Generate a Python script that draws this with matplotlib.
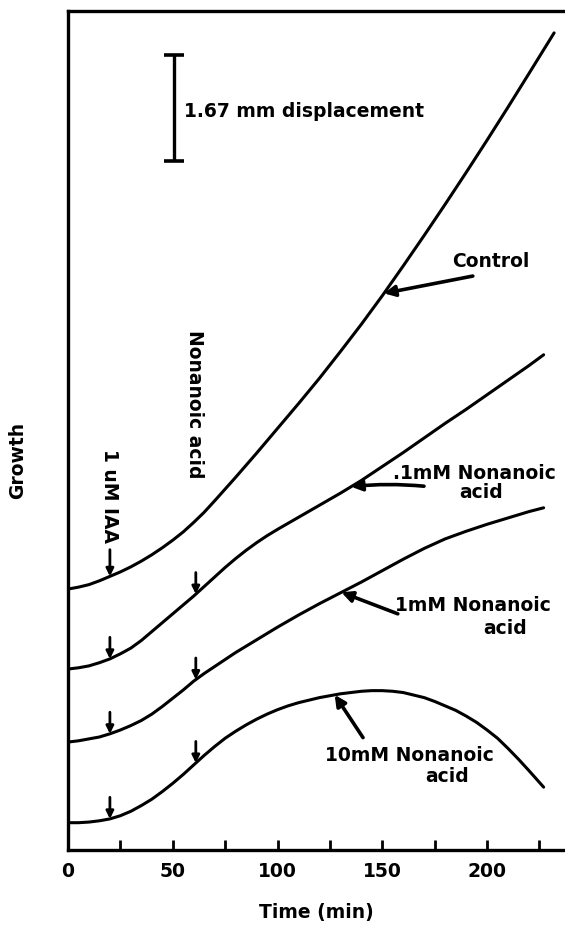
import numpy as np
import matplotlib
matplotlib.use('Agg')
import matplotlib.pyplot as plt

# growth traces (time in min, displacement in mm)
t_control = [0, 5, 10, 15, 20, 25, 30, 35, 40, 45, 50, 55, 60, 65, 70, 80, 90, 100, 110, 120,
             130, 140, 150, 160, 170, 180, 190, 200, 210, 220, 232]
g_control = [4.11, 4.14, 4.18, 4.24, 4.31, 4.38, 4.46, 4.55, 4.65, 4.76, 4.88, 5.01, 5.16, 5.32,
             5.50, 5.87, 6.25, 6.64, 7.03, 7.43, 7.85, 8.28, 8.73, 9.20, 9.68, 10.17, 10.67,
             11.18, 11.70, 12.23, 12.87]

t_01mM = [0, 5, 10, 15, 20, 25, 30, 35, 40, 45, 50, 55, 60, 65, 70, 75, 80, 85, 90, 95, 100,
          110, 120, 130, 140, 150, 160, 170, 180, 190, 200, 210, 220, 227]
g_01mM = [2.85, 2.87, 2.90, 2.95, 3.01, 3.09, 3.18, 3.30, 3.44, 3.58, 3.72, 3.86, 4.00, 4.15,
          4.30, 4.45, 4.59, 4.72, 4.84, 4.95, 5.05, 5.24, 5.43, 5.62, 5.82, 6.04, 6.26, 6.49,
          6.72, 6.94, 7.17, 7.40, 7.63, 7.80]

t_1mM = [0, 5, 10, 15, 20, 25, 30, 35, 40, 45, 50, 55, 60, 65, 70, 75, 80, 85, 90, 100, 110,
         120, 130, 140, 150, 160, 170, 180, 190, 200, 210, 220, 227]
g_1mM = [1.70, 1.72, 1.75, 1.78, 1.83, 1.89, 1.96, 2.04, 2.14, 2.26, 2.39, 2.52, 2.66, 2.78,
         2.89, 3.00, 3.11, 3.21, 3.31, 3.51, 3.70, 3.88, 4.05, 4.22, 4.40, 4.58, 4.75, 4.90,
         5.02, 5.13, 5.23, 5.33, 5.39]

t_10mM = [0, 5, 10, 15, 20, 25, 30, 35, 40, 45, 50, 55, 60, 65, 70, 75, 80, 85, 90, 95, 100,
          105, 110, 115, 120, 125, 130, 135, 140, 145, 150, 155, 160, 165, 170, 175, 180, 185,
          190, 195, 200, 205, 210, 215, 220, 227]
g_10mM = [0.43, 0.43, 0.44, 0.46, 0.49, 0.54, 0.61, 0.70, 0.80, 0.92, 1.05, 1.19, 1.34, 1.49,
          1.63, 1.76, 1.87, 1.97, 2.06, 2.14, 2.21, 2.27, 2.32, 2.36, 2.40, 2.43, 2.46, 2.48,
          2.50, 2.51, 2.51, 2.50, 2.48, 2.44, 2.40, 2.34, 2.27, 2.20, 2.11, 2.01, 1.89, 1.76,
          1.60, 1.43, 1.25, 0.99]

t_iaa = 20        # 1 uM IAA added
t_nonanoic = 61   # nonanoic acid added
scale_mm = 1.67

FONT = dict(family='DejaVu Sans', fontweight='bold', fontsize=13.5)

fig = plt.figure(figsize=(5.65, 9.28), dpi=100)
ax = fig.add_axes([68/565, 77/928, 497/565, 838.7/928])

curves = [(t_control, g_control), (t_01mM, g_01mM), (t_1mM, g_1mM), (t_10mM, g_10mM)]
for tt, gg in curves:
    ax.plot(tt, gg, color='black', lw=2.2, solid_capstyle='round', solid_joinstyle='round')

# small arrows marking additions
arrow_kw = dict(arrowstyle='-|>', color='black', lw=2.0, mutation_scale=11, shrinkA=0, shrinkB=0)
for i, (tt, gg) in enumerate(curves):
    if i == 0:
        y0 = np.interp(t_iaa, tt, gg)
        ax.annotate('', xy=(t_iaa, y0), xytext=(t_iaa, y0 + 0.42), arrowprops=arrow_kw)
        continue
    for tm in (t_iaa, t_nonanoic):
        y0 = np.interp(tm, tt, gg)
        ax.annotate('', xy=(tm, y0), xytext=(tm, y0 + 0.34), arrowprops=arrow_kw)

ax.text(t_iaa, 6.33, '1 uM IAA', rotation=270, ha='center', va='top', **FONT)
ax.text(60.6, 7.04, 'Nonanoic acid', rotation=270, ha='center', va='center', **FONT)

# scale bar
ax.errorbar([50.6], [10.85 + scale_mm/2], yerr=scale_mm/2, color='black', lw=2.4,
            capsize=7, capthick=2.6)
ax.text(55.5, 11.64, '1.67 mm displacement', ha='left', va='center', **FONT)

# curve labels with pointer arrows
lab_kw = dict(arrowstyle='-|>', color='black', lw=2.6, mutation_scale=16, shrinkA=0, shrinkB=0)
ax.text(201.9, 9.28, 'Control', ha='center', va='center', **FONT)
ax.annotate('', xy=(150.8, np.interp(150.8, t_control, g_control)), xytext=(193.2, 9.04),
            arrowprops=lab_kw)

ax.text(193.8, 5.95, '.1mM Nonanoic', ha='center', va='center', **FONT)
ax.text(197, 5.64, 'acid', ha='center', va='center', **FONT)
ax.annotate('', xy=(135.1, np.interp(135.1, t_01mM, g_01mM)), xytext=(169.9, 5.73),
            arrowprops=dict(lab_kw, connectionstyle='arc3,rad=0.05'))

ax.text(193.3, 3.87, '1mM Nonanoic', ha='center', va='center', **FONT)
ax.text(208.6, 3.51, 'acid', ha='center', va='center', **FONT)
ax.annotate('', xy=(130.5, np.interp(130.5, t_1mM, g_1mM)), xytext=(157.4, 3.72),
            arrowprops=lab_kw)

ax.text(163, 1.51, '10mM Nonanoic', ha='center', va='center', **FONT)
ax.text(180.9, 1.17, 'acid', ha='center', va='center', **FONT)
ax.annotate('', xy=(127.3, np.interp(127.3, t_10mM, g_10mM)), xytext=(140.8, 1.77),
            arrowprops=lab_kw)

ax.set_xlim(0, 237.2)
ax.set_ylim(0, 13.21)
ax.spines['right'].set_visible(False)
for s in ('left', 'bottom', 'top'):
    ax.spines[s].set_linewidth(2.4)
ax.set_yticks([])
ax.set_xticks([0, 50, 100, 150, 200])
ax.set_xticks([25, 75, 125, 175, 225], minor=True)
ax.tick_params(axis='x', which='both', direction='in', length=7, width=2, pad=8)
for lbl in ax.get_xticklabels():
    lbl.set_fontfamily('DejaVu Sans')
    lbl.set_fontweight('bold')
    lbl.set_fontsize(13.5)

ax.set_xlabel('Time (min)', labelpad=16, **FONT)
fig.text(18/565, 1 - 460/928, 'Growth', rotation=90, ha='center', va='center', **FONT)

fig.savefig('out.png', dpi=100)
